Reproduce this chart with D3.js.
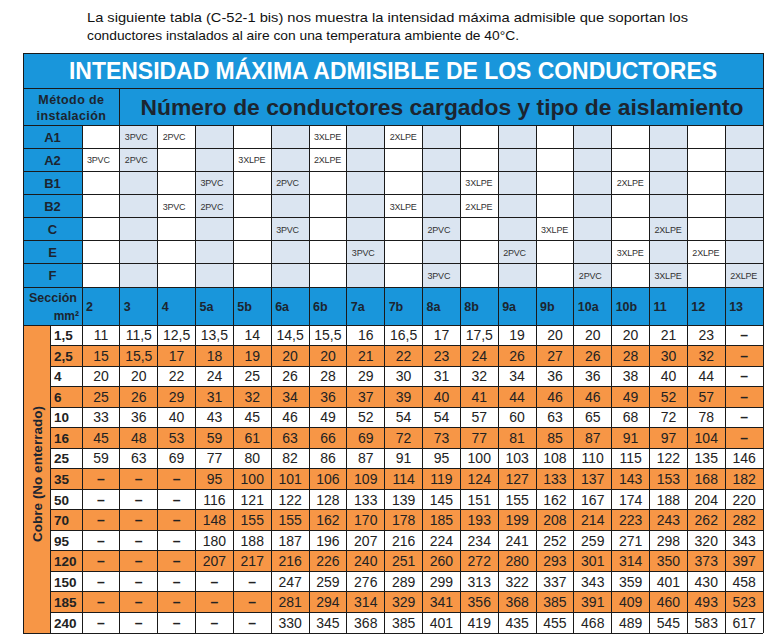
<!DOCTYPE html>
<html>
<head>
<meta charset="utf-8">
<script src="https://cdn.jsdelivr.net/npm/d3@7/dist/d3.min.js"></script>
<style>
  html, body { margin: 0; padding: 0; background: #fff; }
  svg { display: block; font-family: "Liberation Sans", Arial, sans-serif; }
</style>
</head>
<body>
<svg id="chart" width="775" height="643"></svg>
<script>
// ---------- DATA ----------
const introLines = [
  "La siguiente tabla (C-52-1 bis) nos muestra la intensidad máxima admisible que soportan los",
  "conductores instalados al aire con una temperatura ambiente de 40°C."
];
const titleText = "INTENSIDAD MÁXIMA ADMISIBLE DE LOS CONDUCTORES";
const subtitleText = "Número de conductores cargados y tipo de aislamiento";
const methodHeader = ["Método de", "instalación"];
const columns = ["2","3","4","5a","5b","6a","6b","7a","7b","8a","8b","9a","9b","10a","10b","11","12","13"];
const methods = ["A1","A2","B1","B2","C","E","F"];
// [method, column, label]
const methodCells = [
  ["A1","3","3PVC"],["A1","4","2PVC"],["A1","6b","3XLPE"],["A1","7b","2XLPE"],
  ["A2","2","3PVC"],["A2","3","2PVC"],["A2","5b","3XLPE"],["A2","6b","2XLPE"],
  ["B1","5a","3PVC"],["B1","6a","2PVC"],["B1","8b","3XLPE"],["B1","10b","2XLPE"],
  ["B2","4","3PVC"],["B2","5a","2PVC"],["B2","7b","3XLPE"],["B2","8b","2XLPE"],
  ["C","6a","3PVC"],["C","8a","2PVC"],["C","9b","3XLPE"],["C","11","2XLPE"],
  ["E","7a","3PVC"],["E","9a","2PVC"],["E","10b","3XLPE"],["E","12","2XLPE"],
  ["F","8a","3PVC"],["F","10a","2PVC"],["F","11","3XLPE"],["F","13","2XLPE"]
];
const sectionHeader = ["Sección", "mm²"];
const sideLabel = "Cobre (No enterrado)";
const sections = ["1,5","2,5","4","6","10","16","25","35","50","70","95","120","150","185","240"];
// null = "–"
const values = [
  ["11","11,5","12,5","13,5","14","14,5","15,5","16","16,5","17","17,5","19","20","20","20","21","23",null],
  ["15","15,5","17","18","19","20","20","21","22","23","24","26","27","26","28","30","32",null],
  ["20","20","22","24","25","26","28","29","30","31","32","34","36","36","38","40","44",null],
  ["25","26","29","31","32","34","36","37","39","40","41","44","46","46","49","52","57",null],
  ["33","36","40","43","45","46","49","52","54","54","57","60","63","65","68","72","78",null],
  ["45","48","53","59","61","63","66","69","72","73","77","81","85","87","91","97","104",null],
  ["59","63","69","77","80","82","86","87","91","95","100","103","108","110","115","122","135","146"],
  [null,null,null,"95","100","101","106","109","114","119","124","127","133","137","143","153","168","182"],
  [null,null,null,"116","121","122","128","133","139","145","151","155","162","167","174","188","204","220"],
  [null,null,null,"148","155","155","162","170","178","185","193","199","208","214","223","243","262","282"],
  [null,null,null,"180","188","187","196","207","216","224","234","241","252","259","271","298","320","343"],
  [null,null,null,"207","217","216","226","240","251","260","272","280","293","301","314","350","373","397"],
  [null,null,null,null,null,"247","259","276","289","299","313","322","337","343","359","401","430","458"],
  [null,null,null,null,null,"281","294","314","329","341","356","368","385","391","409","460","493","523"],
  [null,null,null,null,null,"330","345","368","385","401","419","435","455","468","489","545","583","617"]
];

// ---------- STYLE ----------
const BLUE = "#1996db", LIGHT = "#dbe5f1", ORANGE = "#f79646";
const LINE = "#1a1a1a", HEADTXT = "#1c2530", TXT = "#222";

// ---------- LAYOUT ----------
const L = 23, R = 763, bandR = 50, labR = 82;
const titleY0 = 53, titleY1 = 88, headY1 = 125, methY1 = 287, secY1 = 325, bottom = 633;

const svg = d3.select("#chart");
const x = d3.scaleBand().domain(columns).range([labR, R]);
const yM = d3.scaleBand().domain(methods).range([headY1, methY1]);
const yS = d3.scaleBand().domain(sections).range([secY1, bottom]);

// intro text
const intro = svg.append("g").attr("fill", "#111").style("font-size", "13px");
intro.append("text").attr("x", 87).attr("y", 22).attr("textLength", 601)
  .attr("lengthAdjust", "spacingAndGlyphs").text(introLines[0]);
intro.append("text").attr("x", 87).attr("y", 40).attr("textLength", 432)
  .attr("lengthAdjust", "spacingAndGlyphs").text(introLines[1]);

// backgrounds
svg.append("rect").attr("x", L).attr("y", titleY0).attr("width", R - L).attr("height", headY1 - titleY0).attr("fill", BLUE);
svg.append("rect").attr("x", L).attr("y", headY1).attr("width", labR - L).attr("height", methY1 - headY1).attr("fill", BLUE);
svg.append("rect").attr("x", L).attr("y", methY1).attr("width", R - L).attr("height", secY1 - methY1).attr("fill", BLUE);

// method grid cells
const mg = svg.append("g");
methods.forEach(m => {
  mg.selectAll(null).data(columns).join("rect")
    .attr("x", c => x(c)).attr("y", yM(m)).attr("width", x.bandwidth()).attr("height", yM.bandwidth())
    .attr("fill", (c, i) => i % 2 ? LIGHT : "#fff");
});

// data rows
svg.append("g").selectAll("rect").data(sections).join("rect")
  .attr("x", bandR).attr("y", s => yS(s)).attr("width", R - bandR).attr("height", yS.bandwidth())
  .attr("fill", (s, i) => i % 2 ? ORANGE : "#fff");
svg.append("rect").attr("x", L).attr("y", secY1).attr("width", bandR - L).attr("height", bottom - secY1).attr("fill", ORANGE);

// ---------- GRID LINES ----------
const lines = svg.append("g").attr("stroke", LINE).attr("stroke-width", 1).attr("shape-rendering", "crispEdges");
function hl(x1, x2, y) { lines.append("line").attr("x1", x1).attr("x2", x2).attr("y1", y).attr("y2", y); }
function vl(xv, y1, y2) { lines.append("line").attr("x1", xv).attr("x2", xv).attr("y1", y1).attr("y2", y2); }
hl(L, R, titleY0); hl(L, R, titleY1); hl(L, R, headY1);
methods.forEach(m => hl(L, R, yM(m) + yM.bandwidth()));
hl(L, R, secY1);
sections.forEach((s, i) => { if (i < sections.length - 1) hl(bandR, R, yS(s) + yS.bandwidth()); });
hl(L, R, bottom);
vl(L, titleY0, bottom); vl(R, titleY0, bottom);
vl(x("3"), titleY1, headY1);
columns.forEach(c => vl(x(c), headY1, bottom));
vl(bandR, secY1, bottom);

// ---------- TEXT ----------
svg.append("text").attr("x", (L + R) / 2).attr("y", 79).attr("text-anchor", "middle")
  .attr("fill", "#fff").attr("font-weight", "bold").style("font-size", "23px")
  .attr("textLength", 648).attr("lengthAdjust", "spacingAndGlyphs").text(titleText);

svg.append("text").attr("x", 442).attr("y", 115).attr("text-anchor", "middle")
  .attr("fill", HEADTXT).attr("font-weight", "bold").style("font-size", "22px")
  .attr("textLength", 603).attr("lengthAdjust", "spacingAndGlyphs").text(subtitleText);

svg.append("g").selectAll("text").data(methodHeader).join("text")
  .attr("x", (L + x("3")) / 2).attr("y", (d, i) => 104 + i * 16).attr("text-anchor", "middle")
  .attr("fill", HEADTXT).attr("font-weight", "bold").style("font-size", "12.5px")
  .style("letter-spacing", "0.4px").text(d => d);

svg.append("g").selectAll("text").data(methods).join("text")
  .attr("x", (L + labR) / 2).attr("y", m => yM(m) + yM.bandwidth() / 2 + 5)
  .attr("text-anchor", "middle").attr("fill", HEADTXT).attr("font-weight", "bold")
  .style("font-size", "13px").text(m => m);

svg.append("g").selectAll("text").data(methodCells).join("text")
  .attr("x", d => x(d[1]) + 5).attr("y", d => yM(d[0]) + yM.bandwidth() / 2 + 3.5)
  .attr("fill", "#333").style("font-size", "9px").style("letter-spacing", "-0.2px").text(d => d[2]);

// section header
svg.append("text").attr("x", 53).attr("y", 302).attr("text-anchor", "middle")
  .attr("fill", HEADTXT).attr("font-weight", "bold").style("font-size", "12.5px").text(sectionHeader[0]);
svg.append("text").attr("x", 79).attr("y", 320).attr("text-anchor", "end")
  .attr("fill", HEADTXT).attr("font-weight", "bold").style("font-size", "12px").text(sectionHeader[1]);

svg.append("g").selectAll("text").data(columns).join("text")
  .attr("x", c => x(c) + 4).attr("y", (methY1 + secY1) / 2 + 5)
  .attr("fill", HEADTXT).attr("font-weight", "bold").style("font-size", "12.5px").text(c => c);

// side label
svg.append("text").attr("transform", `translate(${(L + bandR) / 2 + 5},${(secY1 + bottom) / 2 - 5}) rotate(-90)`)
  .attr("text-anchor", "middle").attr("fill", HEADTXT).attr("font-weight", "bold")
  .style("font-size", "13.5px").text(sideLabel);

// section labels
svg.append("g").selectAll("text").data(sections).join("text")
  .attr("x", 54).attr("y", s => yS(s) + yS.bandwidth() / 2 + 5)
  .attr("fill", TXT).attr("font-weight", "bold").style("font-size", "13.5px").text(s => s);

// values
const vg = svg.append("g");
sections.forEach((s, r) => {
  vg.selectAll(null).data(values[r]).join("text")
    .attr("x", (v, i) => x(columns[i]) + x.bandwidth() / 2)
    .attr("y", yS(s) + yS.bandwidth() / 2 + 5)
    .attr("text-anchor", "middle").attr("fill", TXT).style("font-size", "14px")
    .attr("font-weight", v => v === null ? "bold" : "normal")
    .text(v => v === null ? "–" : v);
});
</script>
</body>
</html>
